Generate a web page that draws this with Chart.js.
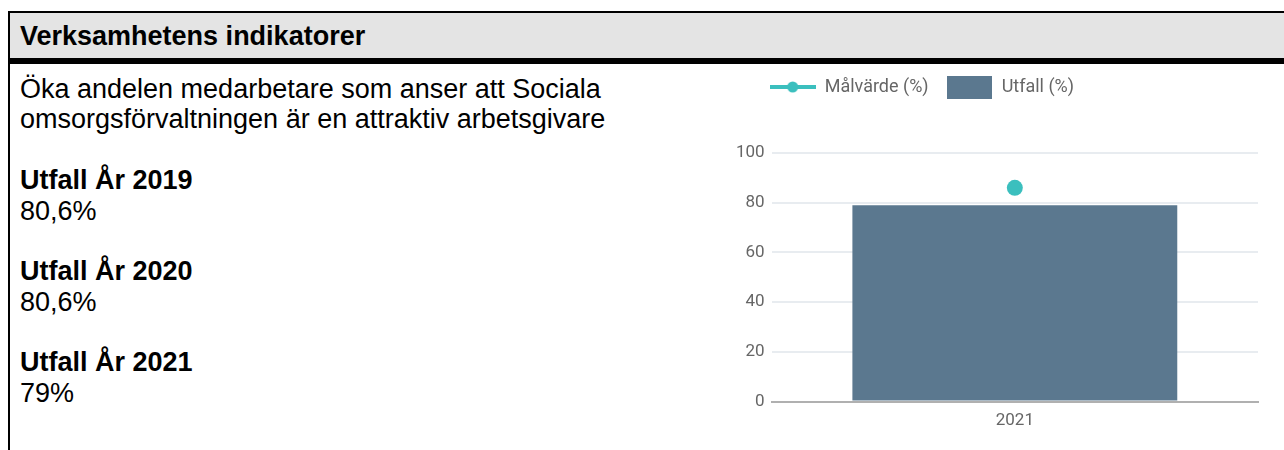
<!DOCTYPE html>
<html lang="sv">
<head>
<meta charset="utf-8">
<script src="https://cdn.jsdelivr.net/npm/chart.js@4/dist/chart.umd.min.js"></script>
<style>
  html, body { margin: 0; padding: 0; background: #fff; }
  body { width: 1284px; height: 450px; position: relative; overflow: hidden; font-family: Arial, "Liberation Sans", sans-serif; }
  .ram { position: absolute; left: 8px; top: 11px; width: 1400px; height: 500px; border-left: 2px solid #000; border-top: 2px solid #000; }
  .rubrik { height: 45px; background: #e4e4e4; border-bottom: 6px solid #000; font-weight: bold; font-size: 27px; line-height: 46px; padding-left: 10px; color: #000; }
  .text { position: absolute; left: 20px; top: 74px; width: 660px; font-size: 27px; color: #000; }
  .mal { line-height: 30px; }
  .utfall { margin-top: 29px; line-height: 31px; }
  .mal + .utfall { margin-top: 31px; }
  .utfall b { display: block; }
  #diagram { position: absolute; left: 560px; top: 60px; }
</style>
</head>
<body>
<div class="ram">
  <div class="rubrik">Verksamhetens indikatorer</div>
</div>
<div class="text" id="text">
  <div class="mal">Öka andelen medarbetare som anser att Sociala omsorgsförvaltningen är en attraktiv arbetsgivare</div>
</div>
<div id="diagram" style="width:720px;height:390px"><canvas id="c"></canvas></div>
<script>
const utfallAr = ['2019', '2020', '2021'];
const utfallVarden = ['80,6%', '80,6%', '79%'];

const kategorier = ['2021'];
const malvarde = [86];
const utfall = [79];

const textDiv = document.getElementById('text');
for (let i = 0; i < utfallAr.length; i++) {
    const d = document.createElement('div');
    d.className = 'utfall';
    d.innerHTML = `<b>Utfall År ${utfallAr[i]}</b>${utfallVarden[i]}`;
    textDiv.appendChild(d);
}

const malFarg = '#3bbfbe';
const utfallFarg = '#5b788f';

// legend markers: line with dot, and a filled box
function linjeMarkor() {
    const c = document.createElement('canvas');
    c.width = 46; c.height = 16;
    const x = c.getContext('2d');
    x.strokeStyle = malFarg;
    x.lineWidth = 4;
    x.beginPath(); x.moveTo(0, 8); x.lineTo(46, 8); x.stroke();
    x.fillStyle = malFarg;
    x.beginPath(); x.arc(23, 8, 5.5, 0, Math.PI * 2); x.fill();
    return c;
}
function boxMarkor() {
    const c = document.createElement('canvas');
    c.width = 45; c.height = 23;
    const x = c.getContext('2d');
    x.fillStyle = utfallFarg;
    x.fillRect(0, 0, 45, 23);
    return c;
}
const markorer = [linjeMarkor(), boxMarkor()];

// more room under the legend, and legend pushed in line with the plot
const legendPlats = {
    id: 'legendPlats',
    beforeInit(chart) {
        const fit = chart.legend.fit;
        chart.legend.fit = function () {
            fit.bind(chart.legend)();
            this.height += 47;
        };
    },
    afterLayout(chart) {
        chart.legend.left = chart.chartArea.left - 20;
    }
};

new Chart(document.getElementById('c'), {
    data: {
        labels: kategorier,
        datasets: [
            {
                type: 'line',
                label: 'Målvärde (%)',
                data: malvarde,
                borderColor: malFarg,
                backgroundColor: malFarg,
                pointRadius: 8,
                pointHoverRadius: 8,
                borderWidth: 0,
                order: 0
            },
            {
                type: 'bar',
                label: 'Utfall (%)',
                data: utfall,
                backgroundColor: utfallFarg,
                categoryPercentage: 1,
                barPercentage: 0.668,
                order: 1
            }
        ]
    },
    options: {
        responsive: true,
        maintainAspectRatio: false,
        animation: false,
        layout: { padding: { left: 169, right: 22, top: 0, bottom: 10 } },
        plugins: {
            tooltip: { enabled: false },
            legend: {
                position: 'top',
                align: 'start',
                labels: {
                    usePointStyle: true,
                    pointStyleWidth: 46,
                    boxHeight: 23,
                    padding: 18,
                    color: '#666',
                    font: { family: 'Roboto', size: 18 },
                    generateLabels: (chart) => chart.data.datasets.map((ds, i) => ({
                        text: ds.label,
                        pointStyle: markorer[i],
                        fillStyle: ds.backgroundColor,
                        strokeStyle: ds.backgroundColor,
                        lineWidth: 0,
                        fontColor: '#666',
                        datasetIndex: i,
                        hidden: false
                    }))
                }
            }
        },
        scales: {
            x: {
                grid: { display: false, drawTicks: false },
                border: { display: true, color: '#b0b0b0', width: 2 },
                ticks: { color: '#666', padding: 9, font: { family: 'Roboto', size: 17 } }
            },
            y: {
                min: 0,
                max: 100,
                grid: { color: '#e8ecf0', lineWidth: 2, drawTicks: false },
                border: { display: false },
                ticks: { stepSize: 20, color: '#666', padding: 7, font: { family: 'Roboto', size: 17 } }
            }
        }
    },
    plugins: [legendPlats]
});
</script>
</body>
</html>
